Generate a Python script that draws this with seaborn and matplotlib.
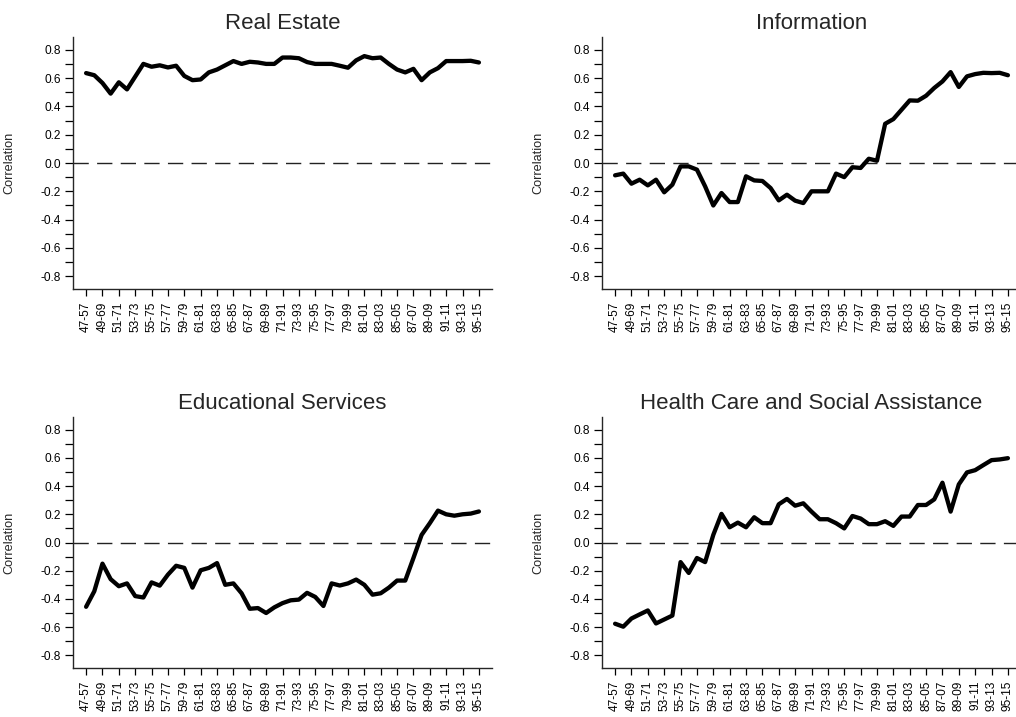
import numpy as np
import pandas as pd
import matplotlib
matplotlib.use("Agg")
import matplotlib.pyplot as plt
from matplotlib.ticker import MultipleLocator, FixedLocator
import seaborn as sns

# Rolling 10-year windows, one per start year 1947..1995
windows = [f"{(47 + i) % 100:02d}-{(57 + i) % 100:02d}" for i in range(49)]

# Labels shown on the x axis (every other window)
tick_labels = ["47-57", "49-69", "51-71", "53-73", "55-75", "57-77", "59-79",
               "61-81", "63-83", "65-85", "67-87", "69-89", "71-91", "73-93",
               "75-95", "77-97", "79-99", "81-01", "83-03", "85-05", "87-07",
               "89-09", "91-11", "93-13", "95-15"]

y_ticks = [-0.8, -0.6, -0.4, -0.2, 0.0, 0.2, 0.4, 0.6, 0.8]

real_estate = [0.635, 0.62, 0.565, 0.49, 0.57, 0.52, 0.61, 0.70, 0.68, 0.69,
               0.675, 0.687, 0.615, 0.585, 0.59, 0.64, 0.66, 0.69, 0.72, 0.70,
               0.715, 0.71, 0.70, 0.70, 0.745, 0.745, 0.74, 0.713, 0.70, 0.70,
               0.70, 0.687, 0.673, 0.725, 0.755, 0.74, 0.745, 0.70, 0.66, 0.64,
               0.665, 0.585, 0.64, 0.67, 0.72, 0.72, 0.72, 0.722, 0.71]

information = [-0.087, -0.075, -0.146, -0.118, -0.158, -0.118, -0.207, -0.153,
               -0.024, -0.024, -0.047, -0.165, -0.30, -0.212, -0.276, -0.276,
               -0.094, -0.123, -0.127, -0.177, -0.264, -0.224, -0.266, -0.283,
               -0.20, -0.20, -0.20, -0.075, -0.10, -0.03, -0.035, 0.03, 0.016,
               0.277, 0.31, 0.376, 0.442, 0.44, 0.475, 0.53, 0.576, 0.642,
               0.537, 0.612, 0.628, 0.637, 0.635, 0.637, 0.62]

education = [-0.456, -0.346, -0.15, -0.26, -0.31, -0.29, -0.38, -0.39, -0.283,
             -0.306, -0.228, -0.165, -0.18, -0.32, -0.197, -0.18, -0.146,
             -0.30, -0.29, -0.36, -0.47, -0.465, -0.50, -0.46, -0.43, -0.41,
             -0.405, -0.357, -0.386, -0.45, -0.29, -0.305, -0.29, -0.263,
             -0.30, -0.37, -0.36, -0.32, -0.27, -0.27, -0.11, 0.054, 0.137,
             0.226, 0.20, 0.19, 0.20, 0.205, 0.22]

health = [-0.576, -0.597, -0.539, -0.51, -0.482, -0.574, -0.546, -0.518,
          -0.139, -0.216, -0.11, -0.139, 0.054, 0.203, 0.108, 0.141, 0.108,
          0.179, 0.137, 0.137, 0.271, 0.309, 0.261, 0.278, 0.219, 0.165,
          0.165, 0.137, 0.10, 0.188, 0.17, 0.13, 0.13, 0.151, 0.118, 0.184,
          0.184, 0.266, 0.266, 0.306, 0.424, 0.219, 0.412, 0.497, 0.513,
          0.549, 0.584, 0.589, 0.598]

panels = [("Real Estate", real_estate),
          ("Information", information),
          ("Educational Services", education),
          ("Health Care and Social Assistance", health)]

sns.set_style("ticks")
plt.rcParams["font.family"] = ["Liberation Sans", "DejaVu Sans"]
plt.rcParams["axes.linewidth"] = 1.0

W, H = 1016, 717
fig = plt.figure(figsize=(W / 100, H / 100), dpi=100)

# axes boxes in pixels: (left, top, right, bottom)
boxes = [(73, 37, 492, 289), (602, 37, 1021, 289),
         (73, 417, 492, 668), (602, 417, 1021, 668)]

for (title, vals), (l, t, r, b) in zip(panels, boxes):
    ax = fig.add_axes([l / W, 1 - b / H, (r - l) / W, (b - t) / H])
    df = pd.DataFrame({"idx": np.arange(len(windows)), "window": windows, "corr": vals})
    sns.lineplot(data=df, x="idx", y="corr", ax=ax, color="black", lw=3.1,
                 solid_capstyle="round", solid_joinstyle="round")
    ax.axhline(0, color="#222222", lw=1.0, dashes=(11, 6), zorder=1)
    ax.set_xlim(-1.6, 49.6)
    ax.set_ylim(-0.89, 0.89)
    ax.set_title(title, fontsize=16, pad=6)
    ax.set_xlabel("")
    ax.set_ylabel("Correlation", fontsize=9.2)
    ax.yaxis.set_label_coords(-0.138, 0.5)
    ax.xaxis.set_major_locator(FixedLocator(np.arange(0, len(windows), 2)))
    ax.set_xticklabels(tick_labels, rotation=90)
    ax.yaxis.set_major_locator(FixedLocator(y_ticks))
    ax.yaxis.set_minor_locator(MultipleLocator(0.1))
    ax.set_yticklabels([f"{v:.1f}" for v in y_ticks])
    ax.tick_params(axis="both", which="both", direction="out", labelsize=8.6,
                   colors="black", width=0.9)
    ax.tick_params(axis="y", which="both", length=5.5, pad=3)
    ax.tick_params(axis="x", which="major", length=5.3, pad=3.5)
    sns.despine(ax=ax)

fig.savefig("out.png", dpi=100, facecolor="white")
